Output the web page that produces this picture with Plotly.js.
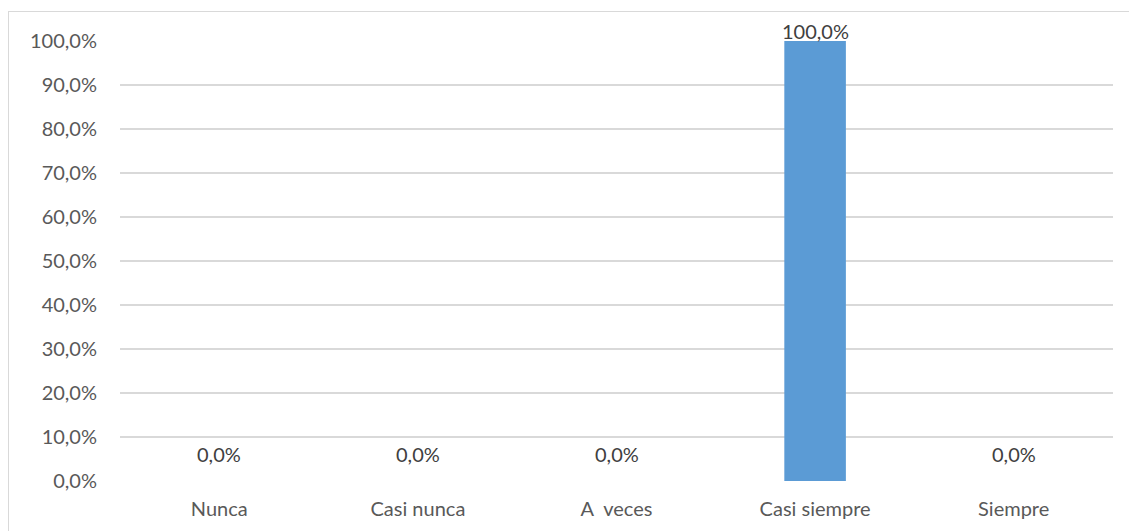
<!DOCTYPE html>
<html>
<head>
<meta charset="utf-8">
<script src="https://cdn.plot.ly/plotly-3.0.1.min.js"></script>
<style>
  html, body { margin: 0; padding: 0; background: #fff; overflow: hidden; }
  #wrap { position: relative; width: 1129px; height: 531px; overflow: hidden; }
  #chart { width: 1129px; height: 531px; }
  #frame { position: absolute; left: 8px; top: 11px; width: 1200px; height: 600px;
           border: 1.5px solid #D9D9D9; pointer-events: none; box-sizing: border-box; }
</style>
</head>
<body>
<div id="wrap">
  <div id="chart"></div>
  <div id="frame"></div>
</div>
<script>
const categories = ["Nunca", "Casi nunca", "A  veces", "Casi siempre", "Siempre"];
const tickLabels = ["Nunca", "Casi nunca", "A\u00a0 veces", "Casi siempre", "Siempre"];
const values = [0.0, 0.0, 0.0, 1.0, 0.0];
const yTicks = [0, 0.1, 0.2, 0.3, 0.4, 0.5, 0.6, 0.7, 0.8, 0.9, 1.0];

function fmt(v) { return (v * 100).toFixed(1).replace('.', ',') + '%'; }

const font = "Lato, 'Open Sans', sans-serif";
const fsize = 20;

const trace = {
  type: 'bar',
  x: categories,
  y: values,
  marker: { color: '#5B9BD5' },
  hoverinfo: 'none'
};

const annotations = categories.map((c, i) => ({
  x: c, y: values[i], xref: 'x', yref: 'y',
  text: fmt(values[i]),
  showarrow: false,
  yanchor: 'bottom',
  yshift: values[i] === 0 ? 13 : -4,
  font: { family: font, size: fsize, color: '#404040' }
}));

const layout = {
  width: 1129, height: 531,
  margin: { l: 120, r: 16, t: 41, b: 50 },
  paper_bgcolor: 'rgba(0,0,0,0)',
  plot_bgcolor: '#fff',
  bargap: 0.69,
  showlegend: false,
  xaxis: {
    type: 'category',
    tickvals: categories,
    ticktext: tickLabels,
    showgrid: false,
    zeroline: false,
    showline: false,
    ticks: '',
    ticklabelstandoff: 14,
    tickfont: { family: font, size: fsize, color: '#595959' }
  },
  yaxis: {
    range: [0, 1],
    tickvals: yTicks,
    ticktext: yTicks.map(fmt),
    showgrid: true,
    gridcolor: '#D9D9D9',
    gridwidth: 1.3,
    zeroline: false,
    showline: false,
    ticks: '',
    ticklabelstandoff: 22,
    tickfont: { family: font, size: fsize, color: '#595959' }
  },
  annotations: annotations
};

Plotly.newPlot('chart', [trace], layout, { displayModeBar: false, staticPlot: true });
</script>
</body>
</html>
